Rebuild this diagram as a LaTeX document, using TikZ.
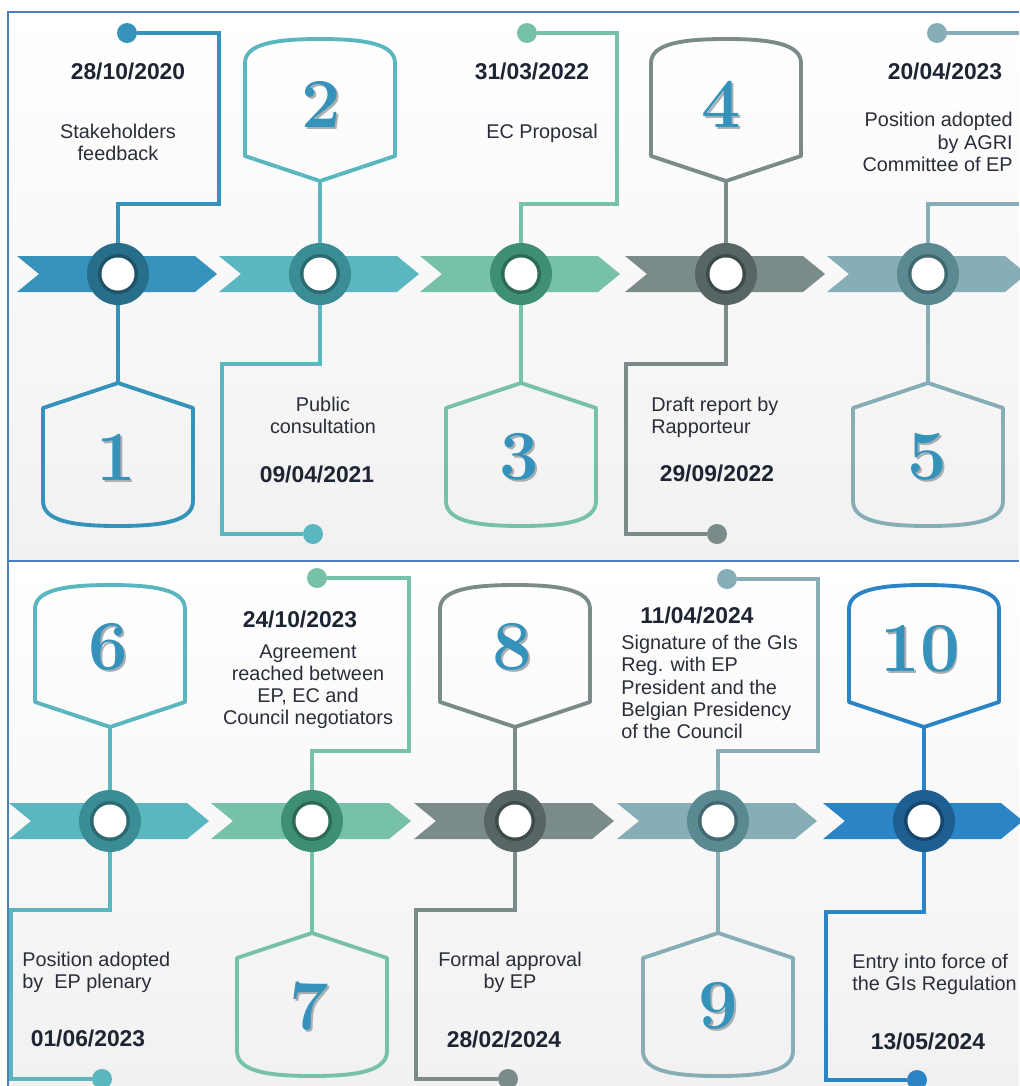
\documentclass[tikz,border=0pt]{standalone}
\usepackage{fontspec}
\setsansfont{Liberation Sans}
\usetikzlibrary{calc}

\definecolor{tlBlue}{HTML}{3592BA}
\definecolor{tlBlueDk}{HTML}{276E8A}
\definecolor{tlBlueRg}{HTML}{1D5267}
\definecolor{tlTeal}{HTML}{5AB6BF}
\definecolor{tlTealDk}{HTML}{3B8D95}
\definecolor{tlTealRg}{HTML}{2A6A70}
\definecolor{tlGreen}{HTML}{77C1A7}
\definecolor{tlGreenDk}{HTML}{3F8F75}
\definecolor{tlGreenRg}{HTML}{2D6B57}
\definecolor{tlGrey}{HTML}{7A8B8A}
\definecolor{tlGreyDk}{HTML}{576665}
\definecolor{tlGreyRg}{HTML}{3D4A4A}
\definecolor{tlSlate}{HTML}{87ADB6}
\definecolor{tlSlateDk}{HTML}{5A8992}
\definecolor{tlSlateRg}{HTML}{426970}
\definecolor{tlAzure}{HTML}{2A84C6}
\definecolor{tlAzureDk}{HTML}{1F5E90}
\definecolor{tlAzureRg}{HTML}{16466E}
\definecolor{framecol}{HTML}{4A7EC1}
\definecolor{panelgrey}{HTML}{F1F1F1}
\definecolor{txtdark}{HTML}{2A2E38}
\definecolor{txtdate}{HTML}{1E2532}
\definecolor{numblue}{HTML}{3593BB}
\definecolor{numshade}{HTML}{A9AEB3}

% chevron band: left x, centre y, colour
\newcommand{\tlchevron}[3]{%
  \fill[#3] (#1,#2-18) -- (#1+178,#2-18) -- (#1+200,#2) -- (#1+178,#2+18)
    -- (#1,#2+18) -- (#1+22,#2) -- cycle;}
% badge hanging below the band: x, apex y, colour, apex name
\newcommand{\badgedown}[4]{%
  \draw[badge=#3] (#1,#2) coordinate (#4) -- (#1-75,#2+25) -- (#1-75,#2+118)
    .. controls (#1-75,#2+138) and (#1-45,#2+143) .. (#1,#2+143)
    .. controls (#1+45,#2+143) and (#1+75,#2+138) .. (#1+75,#2+118)
    -- (#1+75,#2+25) -- cycle;}
% badge standing above the band: x, apex y, colour, apex name
\newcommand{\badgeup}[4]{%
  \draw[badge=#3] (#1,#2) coordinate (#4) -- (#1-75,#2-25) -- (#1-75,#2-118)
    .. controls (#1-75,#2-137) and (#1-45,#2-142) .. (#1,#2-142)
    .. controls (#1+45,#2-142) and (#1+75,#2-137) .. (#1+75,#2-118)
    -- (#1+75,#2-25) -- cycle;}
\newcommand{\bignum}[1]{\makebox[0pt][l]{\hspace{1.1pt}\raisebox{-1.1pt}{\textcolor{numshade}{#1}}}\textcolor{numblue}{#1}}

\begin{document}
\begin{tikzpicture}[x=0.02cm, y=-0.02cm,
    hub/.style 2 args={circle, fill=#1, minimum size=1.24cm, inner sep=0pt,
      path picture={\fill[#2] (path picture bounding box.center) circle (0.4cm);
                    \fill[white] (path picture bounding box.center) circle (0.33cm);}},
    dotnode/.style={circle, fill=#1, minimum size=0.4cm, inner sep=0pt},
    link/.style={draw=#1, line width=2.2pt},
    badge/.style={draw=#1, line width=2.2pt, line join=round},
    num/.style={font=\fontsize{40}{40}\selectfont\bfseries, inner sep=0pt},
    note/.style={font=\sffamily\fontsize{11.3}{12.6}\selectfont, text=txtdark, inner sep=0pt},
    datelbl/.style={font=\sffamily\bfseries\fontsize{13}{15}\selectfont, text=txtdate, inner sep=0pt}]

\useasboundingbox (0,0) rectangle (1019,1086);

% panels
\shade[top color=white, bottom color=panelgrey] (8,12) rectangle (1019,561);
\shade[top color=white, bottom color=panelgrey] (8,561) rectangle (1019,1086);
\draw[framecol, line width=0.8pt] (1019,12) -- (8,12) -- (8,1086);
\draw[framecol, line width=0.8pt] (8,561) -- (1019,561);

% bands
\tlchevron{17}{274}{tlBlue}
\tlchevron{219}{274}{tlTeal}
\tlchevron{420}{274}{tlGreen}
\tlchevron{625}{274}{tlGrey}
\tlchevron{827}{274}{tlSlate}
\tlchevron{9}{821}{tlTeal}
\tlchevron{211}{821}{tlGreen}
\tlchevron{414}{821}{tlGrey}
\tlchevron{617}{821}{tlSlate}
\tlchevron{823}{821}{tlAzure}

% hubs on the bands
\node[hub={tlBlueDk}{tlBlueRg}] (c1) at (118,274) {};
\node[hub={tlTealDk}{tlTealRg}] (c2) at (320,274) {};
\node[hub={tlGreenDk}{tlGreenRg}] (c3) at (521,274) {};
\node[hub={tlGreyDk}{tlGreyRg}] (c4) at (726,274) {};
\node[hub={tlSlateDk}{tlSlateRg}] (c5) at (928,274) {};
\node[hub={tlTealDk}{tlTealRg}] (c6) at (110,821) {};
\node[hub={tlGreenDk}{tlGreenRg}] (c7) at (312,821) {};
\node[hub={tlGreyDk}{tlGreyRg}] (c8) at (515,821) {};
\node[hub={tlSlateDk}{tlSlateRg}] (c9) at (718,821) {};
\node[hub={tlAzureDk}{tlAzureRg}] (c10) at (924,821) {};

% end dots
\node[dotnode=tlBlue] (d1) at (127,33) {};
\node[dotnode=tlTeal] (d2) at (313,534) {};
\node[dotnode=tlGreen] (d3) at (527,33) {};
\node[dotnode=tlGrey] (d4) at (717,534) {};
\node[dotnode=tlSlate] (d5) at (937,33) {};
\node[dotnode=tlTeal] (d6) at (102,1079) {};
\node[dotnode=tlGreen] (d7) at (317,578) {};
\node[dotnode=tlGrey] (d8) at (508,1079) {};
\node[dotnode=tlSlate] (d9) at (727,579) {};
\node[dotnode=tlAzure] (d10) at (917,1080) {};
\coordinate (e5) at (1019,204);
\coordinate (e5b) at (1019,33);

% badges
\badgedown{118}{383}{tlBlue}{a1}
\badgeup{320}{181}{tlTeal}{a2}
\badgedown{521}{383}{tlGreen}{a3}
\badgeup{726}{181}{tlGrey}{a4}
\badgedown{928}{383}{tlSlate}{a5}
\badgeup{110}{727}{tlTeal}{a6}
\badgedown{312}{933}{tlGreen}{a7}
\badgeup{515}{727}{tlGrey}{a8}
\badgedown{718}{933}{tlSlate}{a9}
\badgeup{924}{727}{tlAzure}{a10}

\node[num] (n1) at (116,458) {\bignum{1}};
\node[num] (n2) at (321,105) {\bignum{2}};
\node[num] (n3) at (519,458) {\bignum{3}};
\node[num] (n4) at (721,105) {\bignum{4}};
\node[num] (n5) at (927,458) {\bignum{5}};
\node[num] (n6) at (108,648) {\bignum{6}};
\node[num] (n7) at (309,1007) {\bignum{7}};
\node[num] (n8) at (512,648) {\bignum{8}};
\node[num] (n9) at (718,1007) {\bignum{9}};
\node[num] (n10) at (920,650) {\bignum{10}};

% connectors
\draw[link=tlBlue] (c1) |- (219,204) |- (d1);
\draw[link=tlBlue] (c1) -- (a1);
\draw[link=tlTeal] (a2) -- (c2);
\draw[link=tlTeal] (c2) |- (222,364) |- (d2);
\draw[link=tlGreen] (c3) |- (617,204) |- (d3);
\draw[link=tlGreen] (c3) -- (a3);
\draw[link=tlGrey] (a4) -- (c4);
\draw[link=tlGrey] (c4) |- (626,364) |- (d4);
\draw[link=tlSlate] (c5) |- (e5);
\draw[link=tlSlate] (d5) -- (e5b);
\draw[link=tlSlate] (c5) -- (a5);
\draw[link=tlTeal] (a6) -- (c6);
\draw[link=tlTeal] (c6) |- (11,910) |- (d6);
\draw[link=tlGreen] (c7) |- (409,751) |- (d7);
\draw[link=tlGreen] (c7) -- (a7);
\draw[link=tlGrey] (a8) -- (c8);
\draw[link=tlGrey] (c8) |- (416,910) |- (d8);
\draw[link=tlSlate] (c9) |- (818,751) |- (d9);
\draw[link=tlSlate] (c9) -- (a9);
\draw[link=tlAzure] (a10) -- (c10);
\draw[link=tlAzure] (c10) |- (826,912) |- (d10);

% labels
\node[datelbl] (t1d) at (128,71) {28/10/2020};
\node[note, align=center] (t1) at (118,142) {Stakeholders\\feedback};
\node[note, align=center] (t2) at (323,415) {Public\\consultation};
\node[datelbl] (t2d) at (317,474) {09/04/2021};
\node[datelbl] (t3d) at (532,71) {31/03/2022};
\node[note] (t3) at (542,133) {EC Proposal};
\node[note, align=left, anchor=west] (t4) at (651,417) {Draft report by\\Rapporteur};
\node[datelbl] (t4d) at (717,473) {29/09/2022};
\node[datelbl] (t5d) at (945,71) {20/04/2023};
\node[note, align=right, anchor=east] (t5) at (1013,142) {Position adopted\\by AGRI\\Committee of EP};
\node[note, align=left, anchor=west] (t6) at (22,972) {Position adopted\\by\ \ EP plenary};
\node[datelbl] (t6d) at (88,1038) {01/06/2023};
\node[datelbl] (t7d) at (300,619) {24/10/2023};
\node[note, align=center] (t7) at (308,687) {Agreement\\reached between\\EP, EC and\\Council negotiators};
\node[note, align=center] (t8) at (510,972) {Formal approval\\by EP};
\node[datelbl] (t8d) at (504,1039) {28/02/2024};
\node[datelbl] (t9d) at (697,615) {11/04/2024};
\node[note, align=left, anchor=west] (t9) at (621,687) {Signature of the GIs\\Reg. with EP\\President and the\\Belgian Presidency\\of the Council};
\node[note, align=left, anchor=west] (t10) at (852,974) {Entry into force of\\the GIs Regulation};
\node[datelbl] (t10d) at (928,1041) {13/05/2024};

\end{tikzpicture}
\end{document}
